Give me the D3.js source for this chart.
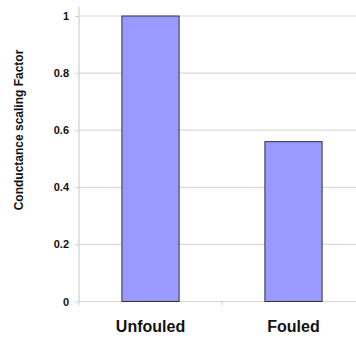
<!DOCTYPE html>
<html><head><meta charset="utf-8">
<script src="https://cdn.jsdelivr.net/npm/d3@7/dist/d3.min.js"></script>
<style>body{margin:0;background:#fff}svg{display:block}</style>
</head><body>
<svg id="c" width="356" height="338"></svg>
<script>
const categories = ["Unfouled", "Fouled"];
const values = [1.0, 0.56];
const yTicks = [0, 0.2, 0.4, 0.6, 0.8, 1];
const yTitle = "Conductance scaling Factor";

const svg = d3.select("#c");
const W = 356;
const x0 = 79, x1 = 365, yBot = 301.5, yTop = 16;
const x = d3.scaleBand().domain(categories).range([x0, x1]).paddingInner(0.6).paddingOuter(0.3);
const y = d3.scaleLinear().domain([0, 1]).range([yBot, yTop]);

// gridlines
svg.append("g").selectAll("line").data(yTicks.filter(d => d > 0)).join("line")
  .attr("x1", x0).attr("x2", W).attr("y1", d => y(d)).attr("y2", d => y(d))
  .attr("stroke", "#dadada").attr("stroke-width", 1.2);

// y axis
const ya = svg.append("g").attr("transform", `translate(${x0},0)`)
  .call(d3.axisLeft(y).tickValues(yTicks).tickSize(4).tickPadding(6).tickFormat(d => d3.format("~g")(d)));
ya.select(".domain").attr("d", `M0,7V${yBot}`).attr("stroke", "#cfcfcf").attr("stroke-width", 1.2);
ya.selectAll(".tick line").attr("stroke", "#cfcfcf");
ya.selectAll("text").attr("font-family", "Arial, 'Liberation Sans', sans-serif")
  .attr("font-size", 11).attr("font-weight", "bold").attr("fill", "#111");

// x axis
const xa = svg.append("g").attr("transform", `translate(0,${yBot})`);
xa.append("line").attr("x1", x0).attr("x2", W).attr("y1", 0).attr("y2", 0)
  .attr("stroke", "#d6d6d6").attr("stroke-width", 1.2);
const bounds = [x0, x(categories[1]) - x.step() * x.paddingInner() / 2];
xa.selectAll("line.tk").data(bounds).join("line").attr("class", "tk")
  .attr("x1", d => d).attr("x2", d => d).attr("y1", 0).attr("y2", 4)
  .attr("stroke", "#cfcfcf");
xa.selectAll("text").data(categories).join("text")
  .attr("x", d => x(d) + x.bandwidth() / 2).attr("y", 30.5)
  .attr("text-anchor", "middle")
  .attr("font-family", "Arial, 'Liberation Sans', sans-serif")
  .attr("font-size", 16).attr("font-weight", "bold").attr("fill", "#111")
  .text(d => d);

// bars
svg.append("g").selectAll("rect").data(categories).join("rect")
  .attr("x", d => x(d)).attr("width", x.bandwidth())
  .attr("y", (d, i) => y(values[i])).attr("height", (d, i) => yBot - y(values[i]))
  .attr("fill", "#9999ff").attr("stroke", "#333").attr("stroke-width", 1);

// y title
svg.append("text").attr("transform", "translate(23,130) rotate(-90)")
  .attr("text-anchor", "middle")
  .attr("font-family", "Arial, 'Liberation Sans', sans-serif")
  .attr("font-size", 12).attr("font-weight", "bold").attr("fill", "#111")
  .text(yTitle);
</script>
</body></html>
